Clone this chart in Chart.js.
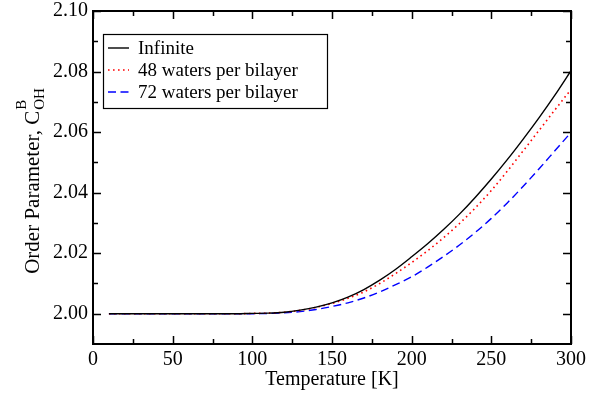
<!DOCTYPE html>
<html>
<head>
<meta charset="utf-8">
<script src="https://cdn.jsdelivr.net/npm/chart.js@4.4.1/dist/chart.umd.min.js"></script>
<style>
  html, body { margin: 0; padding: 0; background: #fff; }
  #wrap { width: 607px; height: 394px; }
</style>
</head>
<body>
<div id="wrap"><canvas id="myChart" width="607" height="394"></canvas></div>
<script>
// data
const temps = [10, 20, 30, 40, 50, 60, 70, 80, 90, 100,
  110, 120, 130, 140, 150, 160, 170, 180, 190, 200,
  210, 220, 230, 240, 250, 260, 270, 280, 290, 300];
const infinite = [2.0000, 2.0000, 2.0000, 2.0000, 2.0000, 2.0000, 2.0000, 2.0000, 2.0000, 2.0001,
  2.0002, 2.0005, 2.0012, 2.0022, 2.0036, 2.0055, 2.0080, 2.0111, 2.0147, 2.0188,
  2.0231, 2.0278, 2.0329, 2.0385, 2.0445, 2.0509, 2.0577, 2.0648, 2.0723, 2.0803];
const waters48 = [2.0000, 2.0000, 2.0000, 2.0000, 2.0000, 2.0000, 2.0000, 2.0000, 2.0000, 2.0001,
  2.0002, 2.0005, 2.0011, 2.0021, 2.0034, 2.0051, 2.0072, 2.0100, 2.0133, 2.0169,
  2.0208, 2.0251, 2.0298, 2.0350, 2.0407, 2.0471, 2.0538, 2.0606, 2.0674, 2.0741];
const waters72 = [2.0000, 2.0000, 2.0000, 2.0000, 2.0000, 2.0000, 2.0000, 2.0000, 2.0000, 2.0000,
  2.0001, 2.0003, 2.0007, 2.0014, 2.0024, 2.0036, 2.0052, 2.0072, 2.0096, 2.0122,
  2.0154, 2.0189, 2.0227, 2.0269, 2.0315, 2.0366, 2.0421, 2.0479, 2.0539, 2.0599];
const xTicks = [0, 50, 100, 150, 200, 250, 300];
const yTicks = [2.00, 2.02, 2.04, 2.06, 2.08, 2.10];
const seriesNames = ['Infinite', '48 waters per bilayer', '72 waters per bilayer'];

const FONT = "'Liberation Serif', 'Times New Roman', serif";

function pts(ys) {
  return temps.map((t, i) => ({ x: t, y: ys[i] }));
}

// frame with inward ticks on all four sides (major + minor), legend, y title
const framePlugin = {
  id: 'frame',
  afterDraw(chart) {
    const c = chart.ctx, a = chart.chartArea;
    const xs = chart.scales.x, ys = chart.scales.y;
    c.save();
    c.strokeStyle = '#000';
    c.lineWidth = 2;
    c.strokeRect(a.left, a.top, a.right - a.left, a.bottom - a.top);
    c.lineWidth = 1.5;
    c.beginPath();
    for (let v = 0; v <= 300; v += 25) {
      const px = Math.round(xs.getPixelForValue(v)) + 0.5;
      const len = (v % 50 === 0) ? 8 : 5;
      c.moveTo(px, a.bottom); c.lineTo(px, a.bottom - len);
      c.moveTo(px, a.top); c.lineTo(px, a.top + len);
    }
    for (let k = 0; k <= 10; k++) {
      const v = 2.00 + k * 0.01;
      const py = Math.round(ys.getPixelForValue(v)) + 0.5;
      const len = (k % 2 === 0) ? 8 : 5;
      c.moveTo(a.left, py); c.lineTo(a.left + len, py);
      c.moveTo(a.right, py); c.lineTo(a.right - len, py);
    }
    c.stroke();

    // legend box
    const lx = 103, ly = 34, lw = 224, lh = 74;
    c.fillStyle = '#fff';
    c.fillRect(lx, ly, lw, lh);
    c.lineWidth = 1.2;
    c.strokeRect(lx + 0.5, ly + 0.5, lw, lh);
    c.font = '19px ' + FONT;
    c.textBaseline = 'middle';
    chart.data.datasets.forEach((ds, i) => {
      const yy = ly + 14 + i * 22;
      c.strokeStyle = ds.borderColor;
      c.lineWidth = ds.borderWidth;
      c.setLineDash(ds.borderDash || []);
      c.beginPath();
      c.moveTo(108, yy); c.lineTo(129, yy);
      c.stroke();
      c.setLineDash([]);
      c.fillStyle = '#000';
      c.fillText(ds.label, 138, yy + 1);
    });

    // y axis title with sub/superscript
    c.font = '21px ' + FONT;
    const main = 'Order Parameter, C';
    const w = c.measureText(main).width;
    c.font = '15px ' + FONT;
    const w2 = c.measureText('OH').width;
    const total = w + 1 + w2;
    c.translate(39, 181 + total / 2);
    c.rotate(-Math.PI / 2);
    c.fillStyle = '#000';
    c.textBaseline = 'alphabetic';
    c.font = '21px ' + FONT;
    c.fillText(main, 0, 0);
    c.font = '15px ' + FONT;
    c.fillText('OH', w + 1, 5);
    c.fillText('B', w + 1, -13);
    c.restore();
  }
};

const ctx = document.getElementById('myChart').getContext('2d');
const myChart = new Chart(ctx, {
  type: 'line',
  data: {
    datasets: [
      { label: seriesNames[0], data: pts(infinite), borderColor: '#000000', borderWidth: 1.4 },
      { label: seriesNames[1], data: pts(waters48), borderColor: '#ff0000', borderWidth: 1.6, borderDash: [1.6, 3.4] },
      { label: seriesNames[2], data: pts(waters72), borderColor: '#0000ff', borderWidth: 1.4, borderDash: [8, 4.5] }
    ]
  },
  options: {
    responsive: false,
    animation: false,
    events: [],
    elements: {
      point: { radius: 0 },
      line: { cubicInterpolationMode: 'monotone', fill: false }
    },
    layout: { padding: { left: 0, top: 11, right: 36, bottom: 0 } },
    plugins: {
      legend: { display: false },
      tooltip: { enabled: false }
    },
    scales: {
      x: {
        type: 'linear',
        min: 0, max: 300,
        grid: { display: false, drawTicks: false },
        border: { display: false },
        afterBuildTicks(s) { s.ticks = xTicks.map(v => ({ value: v })); },
        afterFit(s) { s.height = 50; s.paddingLeft = 0; s.paddingRight = 0; },
        ticks: { color: '#000', padding: 4, maxRotation: 0, font: { family: FONT, size: 20 } },
        title: { display: true, text: 'Temperature [K]', color: '#000', padding: { top: 0, bottom: 2 }, font: { family: FONT, size: 20 } }
      },
      y: {
        type: 'linear',
        min: 1.99, max: 2.10,
        grid: { display: false, drawTicks: false },
        border: { display: false },
        afterBuildTicks(s) { s.ticks = yTicks.map(v => ({ value: v })); },
        afterFit(s) { s.width = 93; s.paddingTop = 0; s.paddingBottom = 0; },
        ticks: { color: '#000', padding: 5, callback: v => v.toFixed(2), font: { family: FONT, size: 20 } }
      }
    }
  },
  plugins: [framePlugin]
});
</script>
</body>
</html>
